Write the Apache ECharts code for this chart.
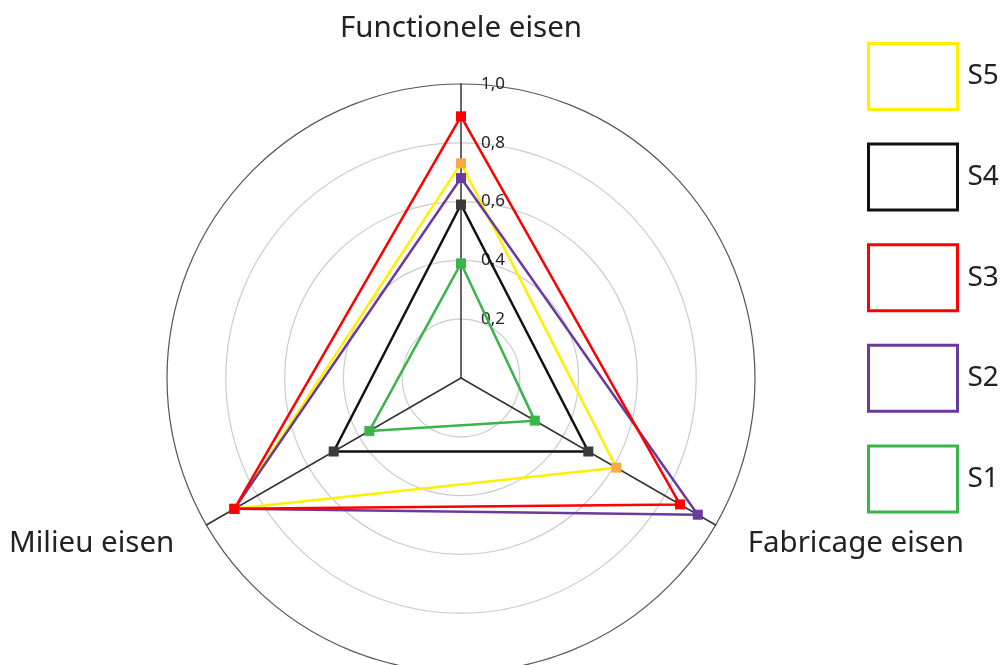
<!DOCTYPE html>
<html>
<head>
<meta charset="utf-8">
<script src="https://cdn.jsdelivr.net/npm/echarts@6/dist/echarts.min.js"></script>
<style>
  html, body { margin: 0; padding: 0; background: #fff; }
  #chart { width: 1005px; height: 665px; }
</style>
</head>
<body>
<div id="chart"></div>
<script>
// Requirement groups (radar axes), counter-clockwise from the top
const axes = ['Functionele eisen', 'Milieu eisen', 'Fabricage eisen'];
const axisMax = 1;

// Scores per scenario, in axis order
const s1 = [0.39, 0.36, 0.29];
const s2 = [0.68, 0.89, 0.93];
const s3 = [0.89, 0.89, 0.86];
const s4 = [0.59, 0.50, 0.50];
const s5 = [0.73, 0.89, 0.61];

const legendOrder = ['S5', 'S4', 'S3', 'S2', 'S1'];

const lineColors = { S1: '#3bb54a', S2: '#6a3a9c', S3: '#ff0000', S4: '#111111', S5: '#fff000' };
const markerColors = { S1: '#3bb54a', S2: '#6a3a9c', S3: '#ff0000', S4: '#3a3a3a', S5: '#f9a945' };
const values = { S1: s1, S2: s2, S3: s3, S4: s4, S5: s5 };

const FONT = '"Noto Sans", "Open Sans", sans-serif';

// Draw order: red last so its markers sit on top
const drawOrder = ['S1', 'S4', 'S5', 'S2', 'S3'];

const chart = echarts.init(document.getElementById('chart'));
chart.setOption({
  animation: false,
  backgroundColor: '#ffffff',
  legend: {
    orient: 'vertical',
    left: 867,
    top: 42,
    padding: 0,
    icon: 'rect',
    itemWidth: 89,
    itemHeight: 66,
    itemGap: 31.6,
    selectedMode: false,
    textStyle: { fontFamily: FONT, fontSize: 28, color: '#222', padding: [0, 0, 0, 5] },
    data: legendOrder.map(n => ({
      name: n,
      itemStyle: { color: '#ffffff', borderColor: lineColors[n], borderWidth: 3 }
    }))
  },
  radar: {
    center: [461, 378],
    radius: 294,
    startAngle: 90,
    shape: 'circle',
    splitNumber: 5,
    nameGap: 37,
    axisName: { fontFamily: FONT, fontSize: 29.5, color: '#222' },
    indicator: axes.map((name, i) => {
      const ind = { name: name, max: axisMax, min: 0 };
      if (i === 0) {
        ind.nameGap = 40;
        ind.axisLabel = {
          show: true,
          showMinLabel: false,
          fontFamily: FONT,
          fontSize: 17,
          color: '#222',
          margin: -20,
          align: 'left',
          verticalAlign: 'middle',
          formatter: v => (v === 0 ? '' : Number(v).toFixed(1).replace('.', ','))
        };
      }
      return ind;
    }),
    axisLabel: { show: false },
    axisTick: { show: false },
    axisLine: { show: true, lineStyle: { color: '#333', width: 1.5 } },
    splitArea: { show: false },
    splitLine: {
      show: true,
      lineStyle: { color: ['#cccccc', '#cccccc', '#cccccc', '#cccccc', '#cccccc', '#555555'], width: 1.2 }
    }
  },
  series: drawOrder.map(n => ({
    type: 'radar',
    name: n,
    symbol: 'rect',
    symbolSize: 10,
    itemStyle: { color: markerColors[n] },
    lineStyle: { color: lineColors[n], width: 2.5 },
    data: [{ name: n, value: values[n] }]
  }))
});
</script>
</body>
</html>
